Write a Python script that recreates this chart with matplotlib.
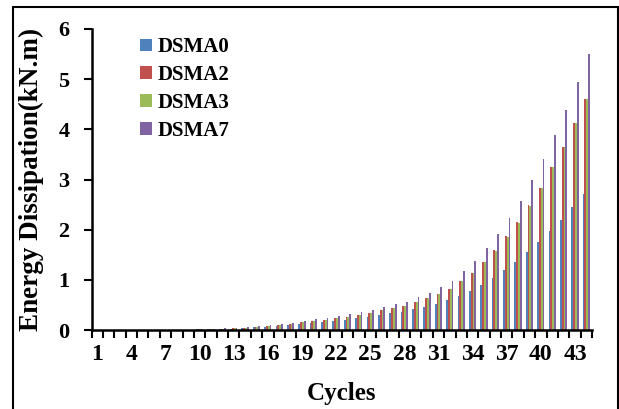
import numpy as np
import matplotlib.pyplot as plt
from matplotlib.patches import Rectangle

plt.rcParams['font.family'] = ['Liberation Serif', 'DejaVu Serif']
plt.rcParams['font.weight'] = 'bold'

cycles = list(range(1, 45))
dsma0 = [0, 0, 0, 0, 0, 0, 0, 0, 0, 0.01, 0.012, 0.018, 0.025, 0.035, 0.05, 0.065,
         0.08, 0.10, 0.12, 0.14, 0.15, 0.18, 0.20, 0.23, 0.25, 0.29, 0.33, 0.36,
         0.41, 0.46, 0.52, 0.59, 0.68, 0.78, 0.90, 1.04, 1.20, 1.36, 1.55, 1.75,
         1.97, 2.19, 2.46, 2.72]
dsma2 = [0, 0, 0, 0, 0, 0, 0, 0, 0, 0.012, 0.016, 0.024, 0.035, 0.045, 0.065, 0.085,
         0.10, 0.12, 0.15, 0.17, 0.20, 0.23, 0.26, 0.29, 0.34, 0.39, 0.43, 0.48,
         0.55, 0.63, 0.72, 0.82, 0.98, 1.14, 1.36, 1.59, 1.87, 2.15, 2.49, 2.84,
         3.25, 3.65, 4.13, 4.60]
dsma3 = [0, 0, 0, 0, 0, 0, 0, 0, 0, 0.012, 0.016, 0.024, 0.035, 0.045, 0.065, 0.085,
         0.10, 0.12, 0.15, 0.17, 0.20, 0.23, 0.26, 0.29, 0.34, 0.39, 0.43, 0.48,
         0.55, 0.63, 0.72, 0.82, 0.97, 1.13, 1.35, 1.58, 1.86, 2.14, 2.48, 2.83,
         3.24, 3.64, 4.12, 4.60]
dsma7 = [0, 0, 0, 0, 0, 0, 0, 0, 0, 0.014, 0.02, 0.03, 0.04, 0.055, 0.075, 0.095,
         0.11, 0.14, 0.17, 0.21, 0.24, 0.27, 0.31, 0.35, 0.39, 0.45, 0.51, 0.56,
         0.65, 0.74, 0.86, 0.98, 1.18, 1.38, 1.63, 1.91, 2.24, 2.58, 2.99, 3.41,
         3.89, 4.38, 4.94, 5.50]

names = ['DSMA0', 'DSMA2', 'DSMA3', 'DSMA7']
colors = ['#4F81BD', '#C0504D', '#9BBB59', '#8064A2']
series = [dsma0, dsma2, dsma3, dsma7]

fig = plt.figure(figsize=(6.19, 4.09), dpi=100)
ax = fig.add_axes([91.5 / 619, 1 - 330 / 409, (592 - 91.5) / 619, (330 - 29) / 409])

x = np.arange(1, len(cycles) + 1)
w = 0.16
for i, (s, c, n) in enumerate(zip(series, colors, names)):
    ax.bar(x + (i - 1.5) * w, s, width=w, color=c, label=n, edgecolor='none')

ax.set_xlim(0.5, len(cycles) + 0.5)
ax.set_ylim(0, 6)
ax.set_yticks(range(0, 7))
ax.set_xticks(x[::3], [str(c) for c in cycles[::3]])
ax.set_xticks(np.arange(0.5, len(cycles) + 1), minor=True)
ax.tick_params(axis='x', which='major', length=0, pad=10, labelsize=17)
ax.tick_params(axis='x', which='minor', length=6, width=1.5, direction='out')
ax.tick_params(axis='y', length=6, width=1.5, direction='out', labelsize=16, pad=10)

for sp in ['top', 'right']:
    ax.spines[sp].set_visible(False)
for sp in ['left', 'bottom']:
    ax.spines[sp].set_linewidth(1.8)

ax.set_xlabel('Cycles', fontsize=18, fontweight='bold', labelpad=12)
ax.set_ylabel('Energy Dissipation(kN.m)', fontsize=19.5, fontweight='bold', labelpad=10)

ax.legend(loc='upper left', bbox_to_anchor=(0.06, 1.035), frameon=False, fontsize=15,
          handlelength=0.55, handleheight=0.55, handletextpad=0.3, labelspacing=0.38)

fig.patches.append(Rectangle((13 / 619, -0.01), (618 - 13) / 619, 1 - 7 / 409 + 0.01,
                             transform=fig.transFigure, fill=False, edgecolor='black',
                             linewidth=1.5))

fig.savefig('out.png', dpi=100)
